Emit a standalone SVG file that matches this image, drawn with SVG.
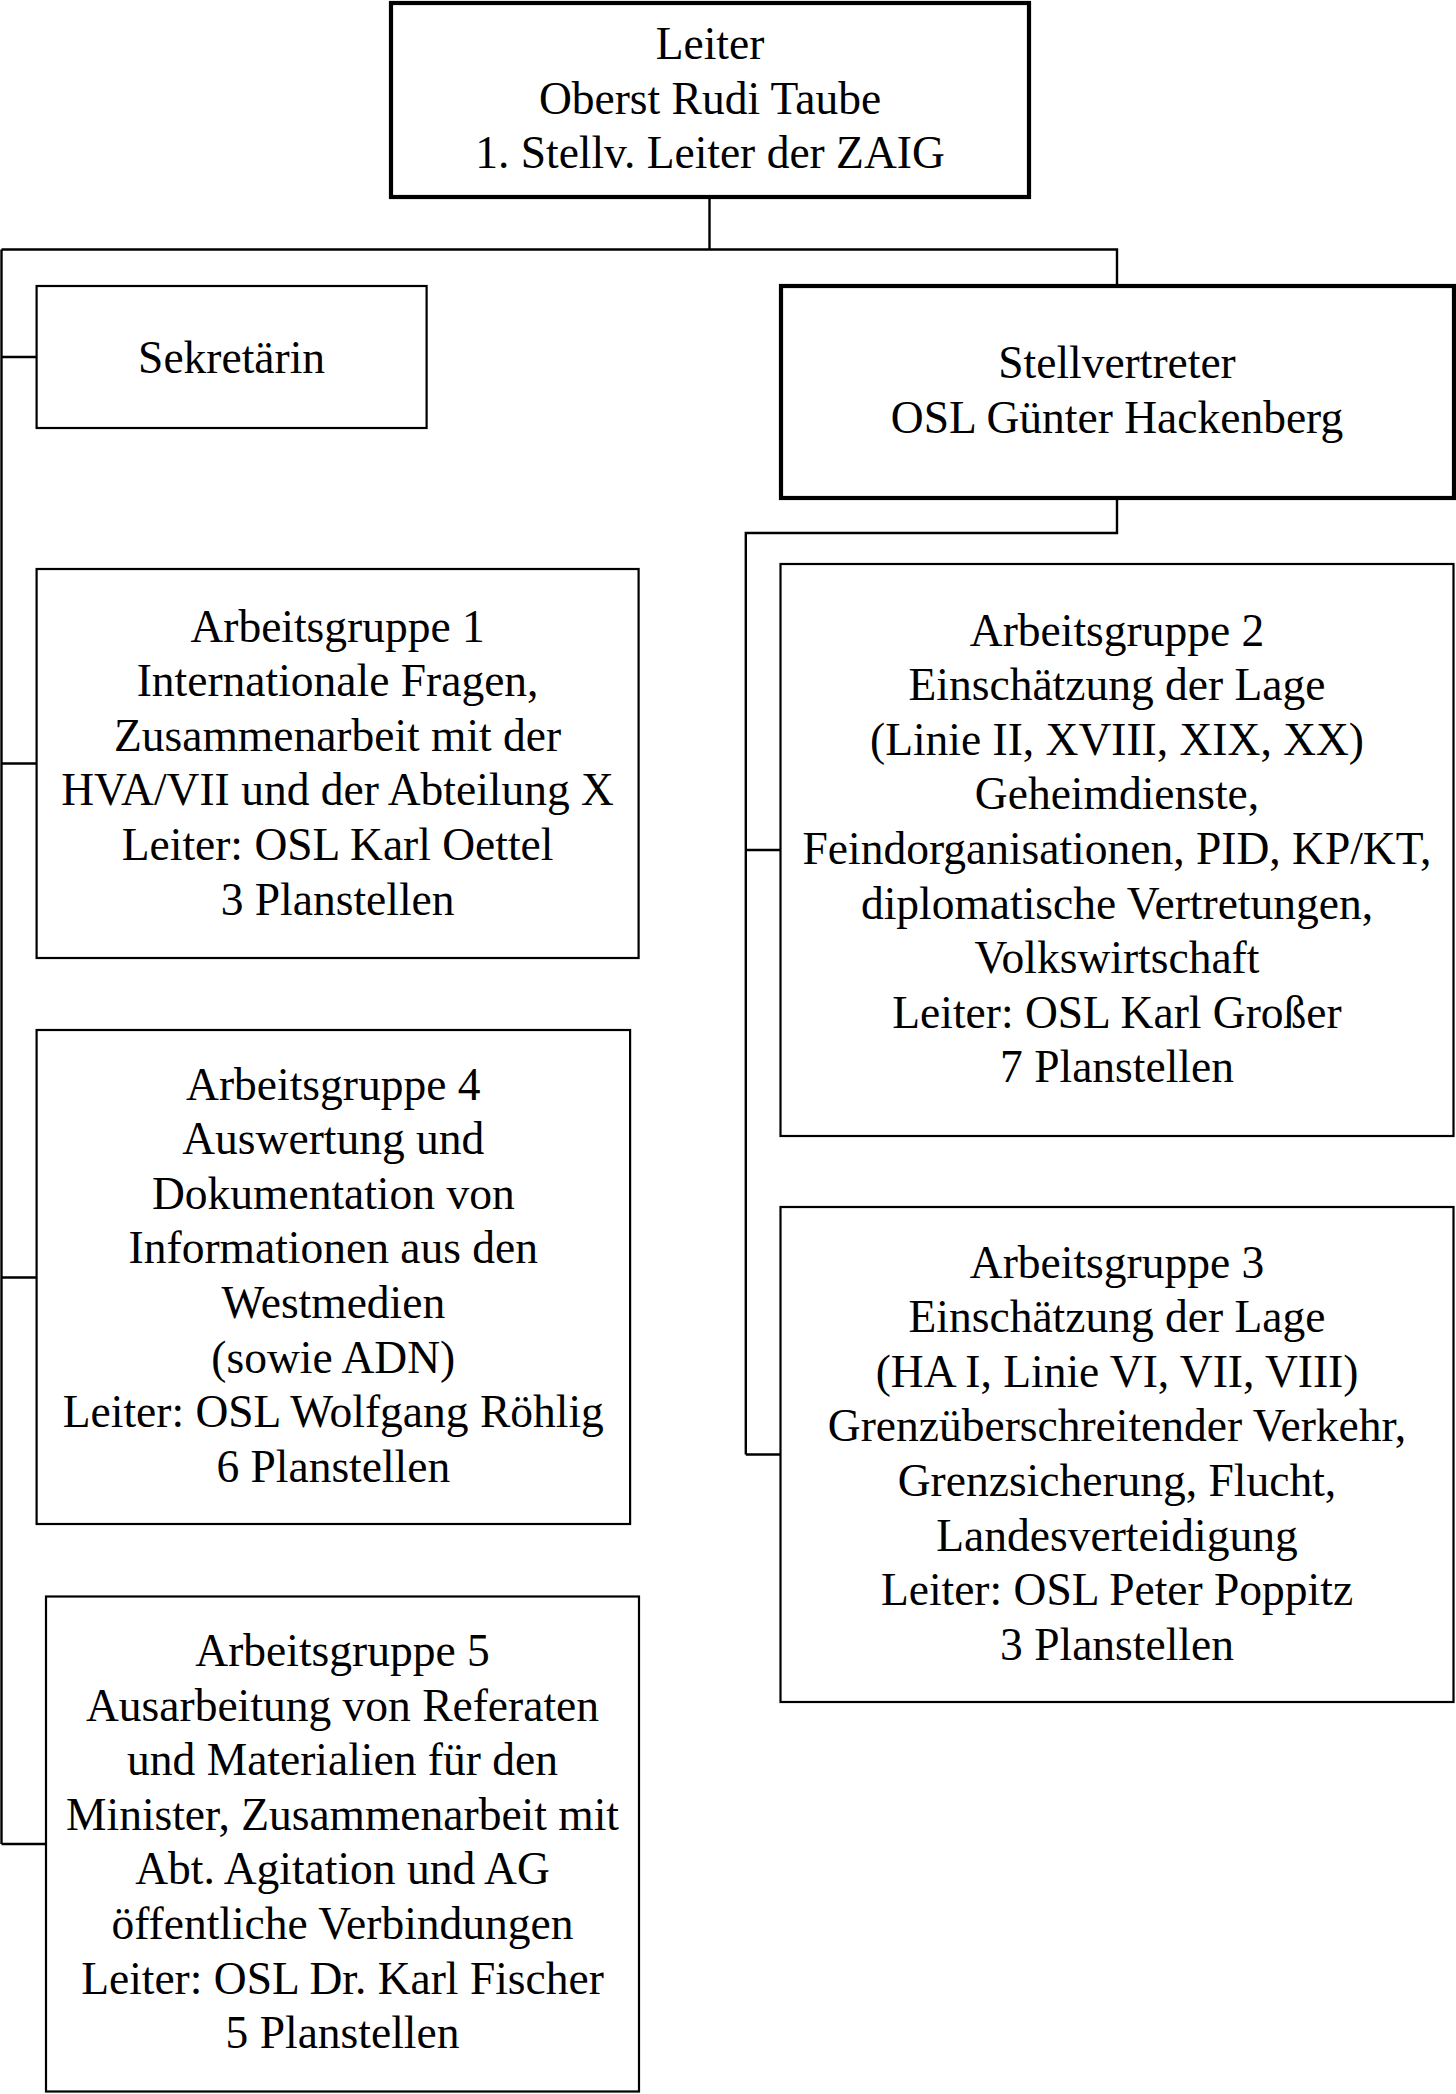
<svg xmlns="http://www.w3.org/2000/svg" width="1456" height="2094" viewBox="0 0 1456 2094">
<style>
.box{fill:#fff;stroke:#000;stroke-width:2.2}
.bold{fill:#fff;stroke:#000;stroke-width:4.2}
.con{fill:none;stroke:#000;stroke-width:2.4}
text{font-family:"Liberation Serif","Times New Roman",serif;font-size:45.5px;fill:#000;text-anchor:middle}
</style>
<rect width="1456" height="2094" fill="#fff"/>
<g id="connectors">
<path class="con" d="M709.5,198 V249.5 M1.5,249.5 H1117 V285 M1.5,249.5 V1844 M1.5,357 H36.6 M1.5,763.5 H36.6 M1.5,1277.5 H36.6 M1.5,1844 H46"/>
<path class="con" d="M1117,498 V533 H745.8 V1454.5 M745.8,850 H780.5 M745.8,1454.5 H780.5"/>
</g>
<g id="leiter">
<rect class="bold" x="391" y="3" width="638" height="194"/>
<text x="710" y="59"><tspan x="710">Leiter</tspan><tspan x="710" dy="54.6">Oberst Rudi Taube</tspan><tspan x="710" dy="54.6">1. Stellv. Leiter der ZAIG</tspan></text>
</g>
<g id="sekretaerin">
<rect class="box" x="36.6" y="286" width="390" height="142"/>
<text x="231.6" y="372.5">Sekretärin</text>
</g>
<g id="stellvertreter">
<rect class="bold" x="781" y="286" width="673" height="212"/>
<text x="1117" y="378.3"><tspan x="1117">Stellvertreter</tspan><tspan x="1117" dy="54.6">OSL Günter Hackenberg</tspan></text>
</g>
<g id="ag1">
<rect class="box" x="36.6" y="569" width="602" height="389"/>
<text x="337.6" y="641.5"><tspan x="337.6">Arbeitsgruppe 1</tspan><tspan x="337.6" dy="54.6">Internationale Fragen,</tspan><tspan x="337.6" dy="54.6">Zusammenarbeit mit der</tspan><tspan x="337.6" dy="54.6">HVA/VII und der Abteilung X</tspan><tspan x="337.6" dy="54.6">Leiter: OSL Karl Oettel</tspan><tspan x="337.6" dy="54.6">3 Planstellen</tspan></text>
</g>
<g id="ag4">
<rect class="box" x="36.6" y="1030" width="593.5" height="494"/>
<text x="333.3" y="1099.5"><tspan x="333.3">Arbeitsgruppe 4</tspan><tspan x="333.3" dy="54.6">Auswertung und</tspan><tspan x="333.3" dy="54.6">Dokumentation von</tspan><tspan x="333.3" dy="54.6">Informationen aus den</tspan><tspan x="333.3" dy="54.6">Westmedien</tspan><tspan x="333.3" dy="54.6">(sowie ADN)</tspan><tspan x="333.3" dy="54.6">Leiter: OSL Wolfgang Röhlig</tspan><tspan x="333.3" dy="54.6">6 Planstellen</tspan></text>
</g>
<g id="ag5">
<rect class="box" x="46" y="1596.5" width="593" height="495"/>
<text x="342.5" y="1666"><tspan x="342.5">Arbeitsgruppe 5</tspan><tspan x="342.5" dy="54.6">Ausarbeitung von Referaten</tspan><tspan x="342.5" dy="54.6">und Materialien für den</tspan><tspan x="342.5" dy="54.6">Minister, Zusammenarbeit mit</tspan><tspan x="342.5" dy="54.6">Abt. Agitation und AG</tspan><tspan x="342.5" dy="54.6">öffentliche Verbindungen</tspan><tspan x="342.5" dy="54.6">Leiter: OSL Dr. Karl Fischer</tspan><tspan x="342.5" dy="54.6">5 Planstellen</tspan></text>
</g>
<g id="ag2">
<rect class="box" x="780.5" y="564" width="673" height="572"/>
<text x="1117" y="645.5"><tspan x="1117">Arbeitsgruppe 2</tspan><tspan x="1117" dy="54.6">Einschätzung der Lage</tspan><tspan x="1117" dy="54.6">(Linie II, XVIII, XIX, XX)</tspan><tspan x="1117" dy="54.6">Geheimdienste,</tspan><tspan x="1117" dy="54.6">Feindorganisationen, PID, KP/KT,</tspan><tspan x="1117" dy="54.6">diplomatische Vertretungen,</tspan><tspan x="1117" dy="54.6">Volkswirtschaft</tspan><tspan x="1117" dy="54.6">Leiter: OSL Karl Großer</tspan><tspan x="1117" dy="54.6">7 Planstellen</tspan></text>
</g>
<g id="ag3">
<rect class="box" x="780.5" y="1207" width="673" height="495"/>
<text x="1117" y="1277.5"><tspan x="1117">Arbeitsgruppe 3</tspan><tspan x="1117" dy="54.6">Einschätzung der Lage</tspan><tspan x="1117" dy="54.6">(HA I, Linie VI, VII, VIII)</tspan><tspan x="1117" dy="54.6">Grenzüberschreitender Verkehr,</tspan><tspan x="1117" dy="54.6">Grenzsicherung, Flucht,</tspan><tspan x="1117" dy="54.6">Landesverteidigung</tspan><tspan x="1117" dy="54.6">Leiter: OSL Peter Poppitz</tspan><tspan x="1117" dy="54.6">3 Planstellen</tspan></text>
</g>
</svg>
